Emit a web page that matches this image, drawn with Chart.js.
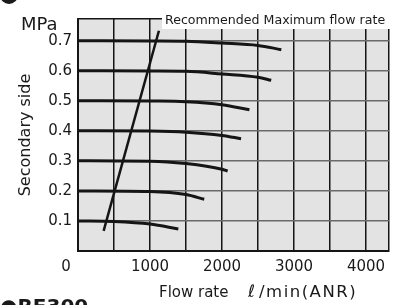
<!DOCTYPE html>
<html>
<head>
<meta charset="utf-8">
<script src="https://cdn.jsdelivr.net/npm/chart.js@4/dist/chart.umd.min.js"></script>
<style>
  html, body { margin: 0; padding: 0; background: #fff; }
  #wrap { width: 402px; height: 305px; position: relative; }
</style>
</head>
<body>
<div id="wrap"><canvas id="flowChart"></canvas></div>
<script>
// flow rate (l/min ANR) vs secondary pressure (MPa)
const pressureLevels = ['0.7', '0.6', '0.5', '0.4', '0.3', '0.2', '0.1'];
const flow07 = [0, 1000, 1500, 2000, 2500, 2824];
const pres07 = [0.700, 0.699, 0.698, 0.692, 0.684, 0.670];
const flow06 = [0, 1000, 1500, 2000, 2500, 2684];
const pres06 = [0.600, 0.599, 0.598, 0.589, 0.578, 0.568];
const flow05 = [0, 1000, 1500, 2000, 2381];
const pres05 = [0.500, 0.499, 0.497, 0.487, 0.470];
const flow04 = [0, 1000, 1500, 2000, 2265];
const pres04 = [0.400, 0.399, 0.3955, 0.3845, 0.3735];
const flow03 = [0, 1000, 1500, 2000, 2078];
const pres03 = [0.300, 0.299, 0.291, 0.272, 0.266];
const flow02 = [0, 1000, 1500, 1753];
const pres02 = [0.200, 0.198, 0.188, 0.172];
const flow01 = [0, 500, 1000, 1394];
const pres01 = [0.100, 0.098, 0.0895, 0.073];
// recommended maximum flow rate line
const recFlow = [356, 1124];
const recPres = [0.067, 0.733];

const xMax = 4320;
const yMax = 0.772;
const xGrid = [0, 500, 1000, 1500, 2000, 2500, 3000, 3500, 4000, xMax];
const yGrid = [0, 0.1, 0.2, 0.3, 0.4, 0.5, 0.6, 0.7, yMax];
const xTickLabels = ['0', '1000', '2000', '3000', '4000'];

const FONT = 'DejaVu Sans';

const toPts = (xs, ys) => xs.map((x, i) => ({ x: x, y: ys[i] }));

const curves = [
  [flow07, pres07], [flow06, pres06], [flow05, pres05], [flow04, pres04],
  [flow03, pres03], [flow02, pres02], [flow01, pres01]
];

const datasets = curves.map((c, i) => ({
  label: pressureLevels[i] + ' MPa',
  data: toPts(c[0], c[1]),
  borderColor: '#151515',
  borderWidth: 3,
  pointRadius: 0,
  cubicInterpolationMode: 'monotone',
  fill: false
}));
datasets.push({
  label: 'Recommended Maximum flow rate',
  data: toPts(recFlow, recPres),
  borderColor: '#151515',
  borderWidth: 2.5,
  pointRadius: 0,
  fill: false
});

const decorPlugin = {
  id: 'decor',
  beforeDraw(chart) {
    const { ctx, chartArea: a } = chart;
    ctx.save();
    ctx.fillStyle = '#e3e3e3';
    ctx.fillRect(a.left, a.top, a.right - a.left, a.bottom - a.top);
    ctx.restore();
  },
  afterDraw(chart) {
    const { ctx, chartArea: a } = chart;
    ctx.save();
    // label box over the top of the plot
    ctx.fillStyle = '#fff';
    ctx.fillRect(162, 0, a.right + 2 - 162, 29);
    ctx.fillStyle = '#1a1a1a';
    ctx.textBaseline = 'alphabetic';
    ctx.textAlign = 'left';
    ctx.font = '12.6px "' + FONT + '"';
    ctx.fillText('Recommended Maximum flow rate', 165, 24);

    ctx.font = '18px "' + FONT + '"';
    ctx.fillText('MPa', 21, 30);
    ctx.font = '15px "' + FONT + '"';
    ctx.fillText('Flow rate', 159, 297);
    ctx.font = 'italic 17px "' + FONT + '"';
    ctx.fillText('\u2113', 248, 297);
    ctx.font = '16.5px "' + FONT + '"';
    ctx.letterSpacing = '1.5px';
    ctx.fillText('/min(ANR)', 259, 297);
    ctx.letterSpacing = '0px';

    // cut-off headings at the top and bottom edge
    ctx.beginPath();
    ctx.arc(9, -5, 9, 0, Math.PI * 2);
    ctx.fill();
    ctx.font = 'bold 20px "' + FONT + '"';
    ctx.fillText('\u25CFRE300', 0, 313);
    ctx.restore();
  }
};

new Chart(document.getElementById('flowChart'), {
  type: 'line',
  data: { datasets: datasets },
  plugins: [decorPlugin],
  options: {
    responsive: true,
    maintainAspectRatio: false,
    animation: false,
    layout: { padding: { top: 19, right: 13, left: 0, bottom: 0 } },
    plugins: {
      legend: { display: false },
      tooltip: { enabled: false }
    },
    scales: {
      x: {
        type: 'linear',
        min: 0,
        max: xMax,
        afterBuildTicks: (s) => { s.ticks = xGrid.map(v => ({ value: v })); },
        afterFit: (s) => { s.height = 54; },
        ticks: {
          autoSkip: false,
          maxRotation: 0,
          padding: 7,
          color: '#1a1a1a',
          font: { family: FONT, size: 15 },
          callback: function(v) {
            const lbl = String(v);
            if (!xTickLabels.includes(lbl)) return '';
            return v === 0 ? '0     ' : lbl;
          }
        },
        grid: {
          color: '#151515',
          lineWidth: 1.5,
          drawTicks: false
        },
        border: { color: '#151515', width: 2 }
      },
      y: {
        min: 0,
        max: yMax,
        afterBuildTicks: (s) => { s.ticks = yGrid.map(v => ({ value: v })); },
        afterFit: (s) => { s.width = 78; },
        ticks: {
          autoSkip: false,
          padding: 6,
          color: '#1a1a1a',
          font: { family: FONT, size: 15 },
          callback: function(v) {
            const lbl = v.toFixed(1);
            return pressureLevels.includes(lbl) && Math.abs(v - Number(lbl)) < 1e-6 ? lbl : '';
          }
        },
        grid: {
          color: (c) => (c.tick && c.tick.value >= yMax - 1e-6) ? '#151515' : '#6a6a6a',
          lineWidth: 1.5,
          drawTicks: false
        },
        border: { color: '#151515', width: 2 },
        title: {
          display: true,
          text: 'Secondary side',
          color: '#1a1a1a',
          font: { family: FONT, size: 16 },
          padding: { top: 16, bottom: 0 }
        }
      }
    }
  }
});
</script>
</body>
</html>
